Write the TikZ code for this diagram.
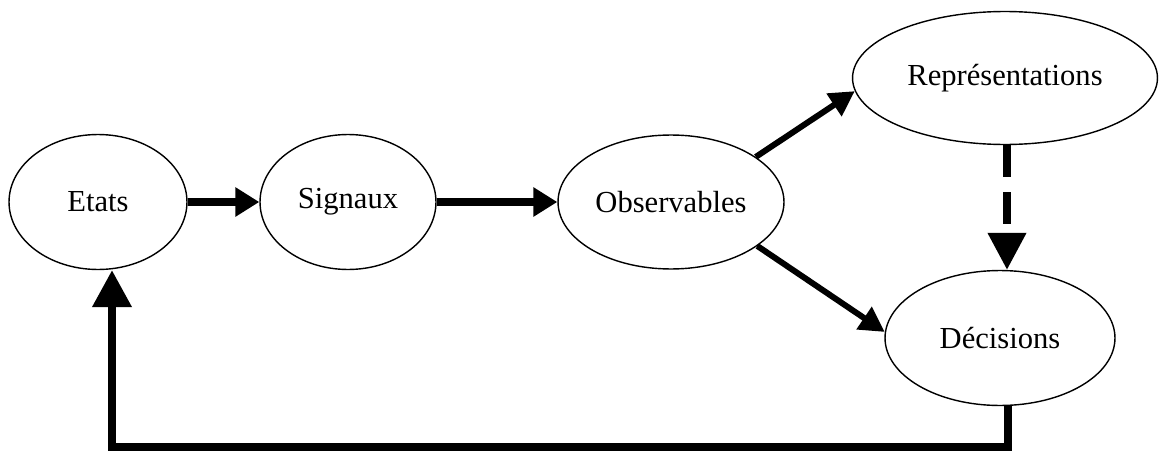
\documentclass[tikz,border=0pt]{standalone}
\usepackage{fontspec}
\setmainfont{Liberation Serif}
\usetikzlibrary{arrows.meta,calc,shapes.geometric}
\begin{document}
\begin{tikzpicture}[x=0.02cm,y=-0.02cm,
  elnode/.style={ellipse,draw,line width=0.8pt,inner sep=0pt,font=\fontsize{17.4}{20}\selectfont},
  flow/.style={line width=4.2pt,-{Triangle[length=0.48cm,width=0.56cm]}},
  diag/.style={line width=3.4pt,-{Triangle[length=0.5cm,width=0.52cm]}},
  bigflow/.style={line width=4.2pt,-{Triangle[length=0.74cm,width=0.76cm]}},
  dashflow/.style={line width=4.2pt,dash pattern=on 0.64cm off 0.3cm,-{Triangle[length=0.74cm,width=0.74cm]}}
]
\useasboundingbox (0,0) rectangle (1160,453);
\node[elnode,minimum width=3.56cm,minimum height=2.7cm] (E) at (98,202) {Etats};
\node[elnode,minimum width=3.52cm,minimum height=2.7cm] (S) at (348,202) {\raisebox{0.15cm}{Signaux}};
\node[elnode,minimum width=4.52cm,minimum height=2.68cm] (O) at (671,202) {Observables};
\node[elnode,minimum width=6.1cm,minimum height=2.66cm] (R) at (1005,78) {Représentations};
\node[elnode,minimum width=4.6cm,minimum height=2.7cm] (D) at (1000,338) {Décisions};
\coordinate (rs) at ($(R.south)+(2,0)$);
\coordinate (ds) at ($(D.south)+(8,0)$);
\coordinate (fb) at (112,447);
\coordinate (fc) at (ds |- fb);
\coordinate (fe) at (fb |- E.south);
\draw[flow] (E.east) -- (S.west);
\draw[flow] (S.east) -- (O.west);
\draw[diag] (O.28) -- (R.185);
\draw[diag] (O.-27) -- (D.177);
\draw[dashflow] (rs) -- (rs |- D.north);
\draw[bigflow] (ds) -- (fc) -- (fb) -- (fe);
\end{tikzpicture}
\end{document}
